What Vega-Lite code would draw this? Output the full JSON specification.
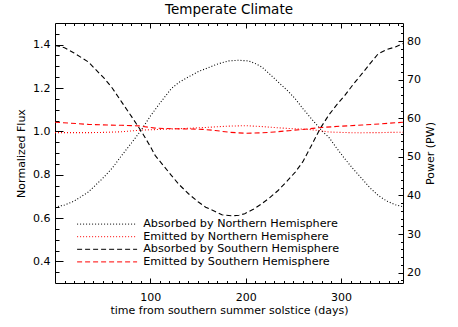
{
  "$schema": "https://vega.github.io/schema/vega-lite/v6.json",
  "width": 348,
  "height": 260,
  "autosize": {"type": "none"},
  "padding": {"left": 55, "top": 23, "right": 55, "bottom": 44},
  "title": {"text": "Temperate Climate", "font": "DejaVu Sans", "fontSize": 13.5, "fontWeight": "normal", "color": "black", "anchor": "middle", "frame": "group", "offset": 6},
  "datasets": {
    "curves": [
      {"series": "Absorbed by Northern Hemisphere", "day": 0, "flux": 0.650},
      {"series": "Absorbed by Northern Hemisphere", "day": 10, "flux": 0.660},
      {"series": "Absorbed by Northern Hemisphere", "day": 20, "flux": 0.678},
      {"series": "Absorbed by Northern Hemisphere", "day": 35, "flux": 0.720},
      {"series": "Absorbed by Northern Hemisphere", "day": 50, "flux": 0.783},
      {"series": "Absorbed by Northern Hemisphere", "day": 60, "flux": 0.830},
      {"series": "Absorbed by Northern Hemisphere", "day": 70, "flux": 0.889},
      {"series": "Absorbed by Northern Hemisphere", "day": 80, "flux": 0.945},
      {"series": "Absorbed by Northern Hemisphere", "day": 90, "flux": 1.003},
      {"series": "Absorbed by Northern Hemisphere", "day": 100, "flux": 1.070},
      {"series": "Absorbed by Northern Hemisphere", "day": 110, "flux": 1.130},
      {"series": "Absorbed by Northern Hemisphere", "day": 122, "flux": 1.197},
      {"series": "Absorbed by Northern Hemisphere", "day": 130, "flux": 1.226},
      {"series": "Absorbed by Northern Hemisphere", "day": 140, "flux": 1.251},
      {"series": "Absorbed by Northern Hemisphere", "day": 150, "flux": 1.275},
      {"series": "Absorbed by Northern Hemisphere", "day": 158, "flux": 1.289},
      {"series": "Absorbed by Northern Hemisphere", "day": 170, "flux": 1.310},
      {"series": "Absorbed by Northern Hemisphere", "day": 182, "flux": 1.325},
      {"series": "Absorbed by Northern Hemisphere", "day": 192, "flux": 1.328},
      {"series": "Absorbed by Northern Hemisphere", "day": 203, "flux": 1.325},
      {"series": "Absorbed by Northern Hemisphere", "day": 210, "flux": 1.313},
      {"series": "Absorbed by Northern Hemisphere", "day": 217, "flux": 1.297},
      {"series": "Absorbed by Northern Hemisphere", "day": 225, "flux": 1.265},
      {"series": "Absorbed by Northern Hemisphere", "day": 234, "flux": 1.228},
      {"series": "Absorbed by Northern Hemisphere", "day": 245, "flux": 1.183},
      {"series": "Absorbed by Northern Hemisphere", "day": 252, "flux": 1.150},
      {"series": "Absorbed by Northern Hemisphere", "day": 260, "flux": 1.105},
      {"series": "Absorbed by Northern Hemisphere", "day": 269, "flux": 1.058},
      {"series": "Absorbed by Northern Hemisphere", "day": 281, "flux": 0.997},
      {"series": "Absorbed by Northern Hemisphere", "day": 287, "flux": 0.974},
      {"series": "Absorbed by Northern Hemisphere", "day": 295, "flux": 0.925},
      {"series": "Absorbed by Northern Hemisphere", "day": 304, "flux": 0.873},
      {"series": "Absorbed by Northern Hemisphere", "day": 313, "flux": 0.825},
      {"series": "Absorbed by Northern Hemisphere", "day": 322, "flux": 0.781},
      {"series": "Absorbed by Northern Hemisphere", "day": 330, "flux": 0.741},
      {"series": "Absorbed by Northern Hemisphere", "day": 339, "flux": 0.704},
      {"series": "Absorbed by Northern Hemisphere", "day": 348, "flux": 0.678},
      {"series": "Absorbed by Northern Hemisphere", "day": 357, "flux": 0.661},
      {"series": "Absorbed by Northern Hemisphere", "day": 365, "flux": 0.652},

      {"series": "Emitted by Northern Hemisphere", "day": 0, "flux": 0.994},
      {"series": "Emitted by Northern Hemisphere", "day": 20, "flux": 0.994},
      {"series": "Emitted by Northern Hemisphere", "day": 35, "flux": 0.994},
      {"series": "Emitted by Northern Hemisphere", "day": 50, "flux": 0.995},
      {"series": "Emitted by Northern Hemisphere", "day": 70, "flux": 0.998},
      {"series": "Emitted by Northern Hemisphere", "day": 91, "flux": 1.006},
      {"series": "Emitted by Northern Hemisphere", "day": 105, "flux": 1.008},
      {"series": "Emitted by Northern Hemisphere", "day": 122, "flux": 1.011},
      {"series": "Emitted by Northern Hemisphere", "day": 140, "flux": 1.014},
      {"series": "Emitted by Northern Hemisphere", "day": 158, "flux": 1.018},
      {"series": "Emitted by Northern Hemisphere", "day": 170, "flux": 1.021},
      {"series": "Emitted by Northern Hemisphere", "day": 182, "flux": 1.024},
      {"series": "Emitted by Northern Hemisphere", "day": 200, "flux": 1.026},
      {"series": "Emitted by Northern Hemisphere", "day": 217, "flux": 1.022},
      {"series": "Emitted by Northern Hemisphere", "day": 235, "flux": 1.016},
      {"series": "Emitted by Northern Hemisphere", "day": 250, "flux": 1.012},
      {"series": "Emitted by Northern Hemisphere", "day": 266, "flux": 1.009},
      {"series": "Emitted by Northern Hemisphere", "day": 278, "flux": 1.003},
      {"series": "Emitted by Northern Hemisphere", "day": 287, "flux": 0.997},
      {"series": "Emitted by Northern Hemisphere", "day": 300, "flux": 0.995},
      {"series": "Emitted by Northern Hemisphere", "day": 308, "flux": 0.994},
      {"series": "Emitted by Northern Hemisphere", "day": 320, "flux": 0.993},
      {"series": "Emitted by Northern Hemisphere", "day": 329, "flux": 0.994},
      {"series": "Emitted by Northern Hemisphere", "day": 340, "flux": 0.994},
      {"series": "Emitted by Northern Hemisphere", "day": 350, "flux": 0.995},
      {"series": "Emitted by Northern Hemisphere", "day": 365, "flux": 0.996},

      {"series": "Absorbed by Southern Hemisphere", "day": 0, "flux": 1.397},
      {"series": "Absorbed by Southern Hemisphere", "day": 10, "flux": 1.386},
      {"series": "Absorbed by Southern Hemisphere", "day": 20, "flux": 1.362},
      {"series": "Absorbed by Southern Hemisphere", "day": 35, "flux": 1.320},
      {"series": "Absorbed by Southern Hemisphere", "day": 52, "flux": 1.243},
      {"series": "Absorbed by Southern Hemisphere", "day": 60, "flux": 1.200},
      {"series": "Absorbed by Southern Hemisphere", "day": 70, "flux": 1.135},
      {"series": "Absorbed by Southern Hemisphere", "day": 80, "flux": 1.070},
      {"series": "Absorbed by Southern Hemisphere", "day": 91, "flux": 0.997},
      {"series": "Absorbed by Southern Hemisphere", "day": 100, "flux": 0.930},
      {"series": "Absorbed by Southern Hemisphere", "day": 105, "flux": 0.889},
      {"series": "Absorbed by Southern Hemisphere", "day": 115, "flux": 0.835},
      {"series": "Absorbed by Southern Hemisphere", "day": 122, "flux": 0.797},
      {"series": "Absorbed by Southern Hemisphere", "day": 130, "flux": 0.755},
      {"series": "Absorbed by Southern Hemisphere", "day": 140, "flux": 0.712},
      {"series": "Absorbed by Southern Hemisphere", "day": 150, "flux": 0.675},
      {"series": "Absorbed by Southern Hemisphere", "day": 158, "flux": 0.650},
      {"series": "Absorbed by Southern Hemisphere", "day": 168, "flux": 0.630},
      {"series": "Absorbed by Southern Hemisphere", "day": 175, "flux": 0.615},
      {"series": "Absorbed by Southern Hemisphere", "day": 185, "flux": 0.610},
      {"series": "Absorbed by Southern Hemisphere", "day": 193, "flux": 0.613},
      {"series": "Absorbed by Southern Hemisphere", "day": 199, "flux": 0.620},
      {"series": "Absorbed by Southern Hemisphere", "day": 208, "flux": 0.640},
      {"series": "Absorbed by Southern Hemisphere", "day": 217, "flux": 0.666},
      {"series": "Absorbed by Southern Hemisphere", "day": 225, "flux": 0.693},
      {"series": "Absorbed by Southern Hemisphere", "day": 234, "flux": 0.727},
      {"series": "Absorbed by Southern Hemisphere", "day": 243, "flux": 0.768},
      {"series": "Absorbed by Southern Hemisphere", "day": 252, "flux": 0.812},
      {"series": "Absorbed by Southern Hemisphere", "day": 260, "flux": 0.860},
      {"series": "Absorbed by Southern Hemisphere", "day": 269, "flux": 0.935},
      {"series": "Absorbed by Southern Hemisphere", "day": 278, "flux": 1.012},
      {"series": "Absorbed by Southern Hemisphere", "day": 287, "flux": 1.074},
      {"series": "Absorbed by Southern Hemisphere", "day": 295, "flux": 1.120},
      {"series": "Absorbed by Southern Hemisphere", "day": 304, "flux": 1.166},
      {"series": "Absorbed by Southern Hemisphere", "day": 313, "flux": 1.218},
      {"series": "Absorbed by Southern Hemisphere", "day": 322, "flux": 1.266},
      {"series": "Absorbed by Southern Hemisphere", "day": 330, "flux": 1.310},
      {"series": "Absorbed by Southern Hemisphere", "day": 339, "flux": 1.358},
      {"series": "Absorbed by Southern Hemisphere", "day": 348, "flux": 1.378},
      {"series": "Absorbed by Southern Hemisphere", "day": 357, "flux": 1.389},
      {"series": "Absorbed by Southern Hemisphere", "day": 365, "flux": 1.405},

      {"series": "Emitted by Southern Hemisphere", "day": 0, "flux": 1.042},
      {"series": "Emitted by Southern Hemisphere", "day": 15, "flux": 1.038},
      {"series": "Emitted by Southern Hemisphere", "day": 35, "flux": 1.032},
      {"series": "Emitted by Southern Hemisphere", "day": 55, "flux": 1.029},
      {"series": "Emitted by Southern Hemisphere", "day": 70, "flux": 1.028},
      {"series": "Emitted by Southern Hemisphere", "day": 88, "flux": 1.025},
      {"series": "Emitted by Southern Hemisphere", "day": 105, "flux": 1.015},
      {"series": "Emitted by Southern Hemisphere", "day": 122, "flux": 1.012},
      {"series": "Emitted by Southern Hemisphere", "day": 140, "flux": 1.011},
      {"series": "Emitted by Southern Hemisphere", "day": 155, "flux": 1.009},
      {"series": "Emitted by Southern Hemisphere", "day": 168, "flux": 1.004},
      {"series": "Emitted by Southern Hemisphere", "day": 182, "flux": 0.996},
      {"series": "Emitted by Southern Hemisphere", "day": 200, "flux": 0.991},
      {"series": "Emitted by Southern Hemisphere", "day": 217, "flux": 0.993},
      {"series": "Emitted by Southern Hemisphere", "day": 230, "flux": 0.997},
      {"series": "Emitted by Southern Hemisphere", "day": 245, "flux": 1.003},
      {"series": "Emitted by Southern Hemisphere", "day": 265, "flux": 1.011},
      {"series": "Emitted by Southern Hemisphere", "day": 280, "flux": 1.018},
      {"series": "Emitted by Southern Hemisphere", "day": 301, "flux": 1.024},
      {"series": "Emitted by Southern Hemisphere", "day": 322, "flux": 1.029},
      {"series": "Emitted by Southern Hemisphere", "day": 343, "flux": 1.035},
      {"series": "Emitted by Southern Hemisphere", "day": 365, "flux": 1.042}
    ],
    "power": [{"p": 17.3}, {"p": 84.7}]
  },
  "layer": [
    {
      "data": {"name": "curves"},
      "mark": {"type": "line", "strokeWidth": 1.1, "clip": true},
      "encoding": {
        "x": {"field": "day", "type": "quantitative",
          "scale": {"domain": [0, 365], "nice": false, "zero": false},
          "axis": {"orient": "bottom", "values": [100, 200, 300], "tickSize": -5, "labelPadding": 13,
            "title": "time from southern summer solstice (days)", "titlePadding": 2}},
        "y": {"field": "flux", "type": "quantitative",
          "scale": {"domain": [0.3, 1.5], "nice": false, "zero": false},
          "axis": {"orient": "left", "values": [0.4, 0.6, 0.8, 1.0, 1.2, 1.4], "format": ".1f", "tickSize": -8, "labelPadding": 13,
            "title": "Normalized Flux", "titlePadding": 6}},
        "color": {"field": "series", "type": "nominal",
          "scale": {"domain": ["Absorbed by Northern Hemisphere", "Emitted by Northern Hemisphere", "Absorbed by Southern Hemisphere", "Emitted by Southern Hemisphere"],
            "range": ["#000000", "#ff0000", "#000000", "#ff0000"]},
          "legend": {"title": null, "orient": "none", "legendX": 16.5, "legendY": 195.5, "padding": 0,
            "symbolType": "M-10,0H10", "symbolSize": 36, "symbolOffset": 30, "labelOffset": 30.5,
            "symbolStrokeWidth": 1, "labelFont": "DejaVu Sans", "labelFontSize": 11.2, "labelColor": "black", "labelLimit": 300, "rowPadding": 0.6,
            "encode": {"symbols": {"update": {"stroke": {"scale": "color", "field": "value"}, "strokeDash": {"scale": "strokeDash", "field": "value"}}}}}},
        "strokeDash": {"field": "series", "type": "nominal",
          "scale": {"domain": ["Absorbed by Northern Hemisphere", "Emitted by Northern Hemisphere", "Absorbed by Southern Hemisphere", "Emitted by Southern Hemisphere"],
            "range": [[1, 2], [1, 2], [5, 3], [5, 3]]},
          "legend": {"title": null, "orient": "none", "legendX": 16.5, "legendY": 195.5, "padding": 0,
            "symbolType": "M-10,0H10", "symbolSize": 36, "symbolOffset": 30, "labelOffset": 30.5,
            "symbolStrokeWidth": 1, "labelFont": "DejaVu Sans", "labelFontSize": 11.2, "labelColor": "black", "labelLimit": 300, "rowPadding": 0.6,
            "encode": {"symbols": {"update": {"stroke": {"scale": "color", "field": "value"}, "strokeDash": {"scale": "strokeDash", "field": "value"}}}}}}
      }
    },
    {
      "data": {"name": "curves"},
      "mark": {"type": "rule", "opacity": 0},
      "encoding": {
        "x": {"field": "day", "type": "quantitative",
          "scale": {"domain": [0, 365], "nice": false, "zero": false},
          "axis": {"orient": "bottom", "values": [10, 20, 30, 40, 50, 60, 70, 80, 90, 110, 120, 130, 140, 150, 160, 170, 180, 190, 210, 220, 230, 240, 250, 260, 270, 280, 290, 310, 320, 330, 340, 350, 360],
            "tickSize": -2.5, "labels": false, "title": null}}
      }
    },
    {
      "data": {"name": "curves"},
      "mark": {"type": "rule", "opacity": 0},
      "encoding": {
        "x": {"field": "day", "type": "quantitative",
          "scale": {"domain": [0, 365], "nice": false, "zero": false},
          "axis": {"orient": "top", "values": [100, 200, 300], "tickSize": -5, "labels": false, "title": null}}
      }
    },
    {
      "data": {"name": "curves"},
      "mark": {"type": "rule", "opacity": 0},
      "encoding": {
        "x": {"field": "day", "type": "quantitative",
          "scale": {"domain": [0, 365], "nice": false, "zero": false},
          "axis": {"orient": "top", "values": [10, 20, 30, 40, 50, 60, 70, 80, 90, 110, 120, 130, 140, 150, 160, 170, 180, 190, 210, 220, 230, 240, 250, 260, 270, 280, 290, 310, 320, 330, 340, 350, 360],
            "tickSize": -2.5, "labels": false, "title": null}}
      }
    },
    {
      "data": {"name": "curves"},
      "mark": {"type": "rule", "opacity": 0},
      "encoding": {
        "y": {"field": "flux", "type": "quantitative",
          "scale": {"domain": [0.3, 1.5], "nice": false, "zero": false},
          "axis": {"orient": "left", "values": [0.35, 0.45, 0.5, 0.55, 0.65, 0.7, 0.75, 0.85, 0.9, 0.95, 1.05, 1.1, 1.15, 1.25, 1.3, 1.35, 1.45],
            "tickSize": -4, "labels": false, "title": null}}
      }
    },
    {
      "data": {"name": "power"},
      "mark": {"type": "rule", "opacity": 0},
      "encoding": {
        "y": {"field": "p", "type": "quantitative",
          "scale": {"domain": [17.3, 84.7], "nice": false, "zero": false},
          "axis": {"orient": "right", "values": [20, 30, 40, 50, 60, 70, 80], "tickSize": -5, "labelPadding": 8.5,
            "title": "Power (PW)", "titleAngle": 270, "titleBaseline": "top", "titlePadding": 4}}
      }
    },
    {
      "data": {"name": "power"},
      "mark": {"type": "rule", "opacity": 0},
      "encoding": {
        "y": {"field": "p", "type": "quantitative",
          "scale": {"domain": [17.3, 84.7], "nice": false, "zero": false},
          "axis": {"orient": "right", "values": [18, 22, 24, 26, 28, 32, 34, 36, 38, 42, 44, 46, 48, 52, 54, 56, 58, 62, 64, 66, 68, 72, 74, 76, 78, 82, 84],
            "tickSize": -2.5, "labels": false, "title": null}}
      }
    }
  ],
  "resolve": {"scale": {"y": "independent"}, "axis": {"x": "independent", "y": "independent"}},
  "config": {
    "view": {"stroke": "black", "strokeWidth": 1},
    "axis": {"grid": false, "domain": false, "tickColor": "black", "tickWidth": 1, "labelColor": "black", "titleColor": "black",
      "labelFont": "DejaVu Sans", "titleFont": "DejaVu Sans", "labelFontSize": 11, "titleFontSize": 11, "titleFontWeight": "normal"}
  }
}
